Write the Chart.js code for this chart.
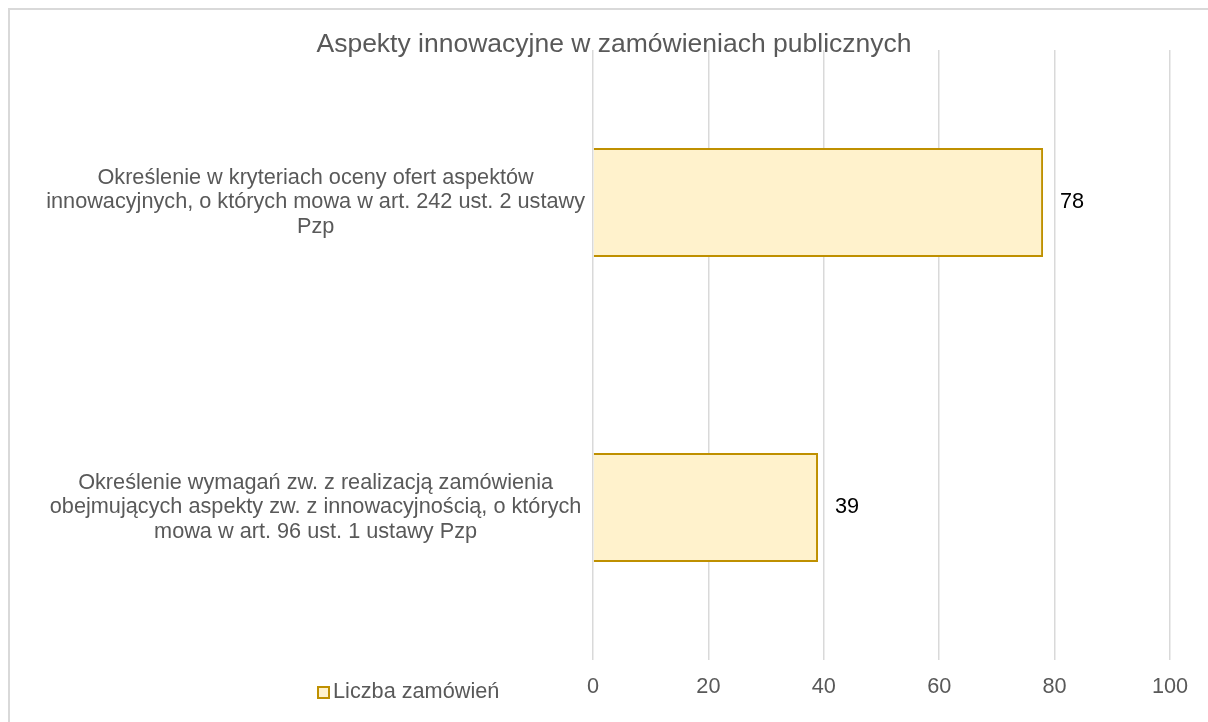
<!DOCTYPE html>
<html>
<head>
<meta charset="utf-8">
<script src="https://cdn.jsdelivr.net/npm/chart.js@4.4.1/dist/chart.umd.min.js"></script>
<style>
  body { margin: 0; background: #fff; }
</style>
</head>
<body>
<canvas id="barChart" width="1208" height="722"></canvas>
<script>
// dane wykresu
var kategorie = [
    ["Określenie w kryteriach oceny ofert aspektów", "innowacyjnych, o których mowa w art. 242 ust. 2 ustawy", "Pzp"],
    ["Określenie wymagań zw. z realizacją zamówienia", "obejmujących aspekty zw. z innowacyjnością, o których", "mowa w art. 96 ust. 1 ustawy Pzp"]
];
var liczbaZamowien = [78, 39];
var osX = [0, 20, 40, 60, 80, 100];
var nazwaSerii = "Liczba zamówień";
var tytul = "Aspekty innowacyjne w zamówieniach publicznych";

var szary = "#595959";
var wypelnienie = "#fff2cc";
var obramowanie = "#bf9000";
var czcionka = "'Liberation Sans', Arial, sans-serif";

// ramka, tytul, etykiety wartosci i legenda
var dodatki = {
    id: 'dodatki',
    beforeDraw: function (chart) {
        var ctx = chart.ctx;
        ctx.save();
        ctx.strokeStyle = "#d9d9d9";
        ctx.lineWidth = 2;
        ctx.strokeRect(9, 9, 1400, 900);
        ctx.restore();
    },
    afterDatasetsDraw: function (chart) {
        var ctx = chart.ctx;
        var meta = chart.getDatasetMeta(0);
        ctx.save();
        ctx.font = "21.7px " + czcionka;
        ctx.fillStyle = "#000";
        ctx.textAlign = "left";
        ctx.textBaseline = "middle";
        meta.data.forEach(function (bar, i) {
            ctx.fillText(String(liczbaZamowien[i]), bar.x + 17, bar.y);
        });
        // legenda
        ctx.fillStyle = wypelnienie;
        ctx.fillRect(318, 687, 11, 11);
        ctx.strokeStyle = obramowanie;
        ctx.lineWidth = 2;
        ctx.strokeRect(318, 687, 11, 11);
        ctx.fillStyle = szary;
        ctx.fillText(nazwaSerii, 333, 692);
        // tytul
        ctx.font = "26.5px " + czcionka;
        ctx.textAlign = "center";
        ctx.fillText(tytul, 614, 45);
        ctx.restore();
    }
};

var ctxB = document.getElementById("barChart").getContext('2d');
var wykres = new Chart(ctxB, {
    type: 'bar',
    data: {
        labels: kategorie,
        datasets: [{
            label: nazwaSerii,
            data: liczbaZamowien,
            backgroundColor: wypelnienie,
            borderColor: obramowanie,
            borderWidth: 2,
            categoryPercentage: 1,
            barPercentage: 0.357
        }]
    },
    options: {
        indexAxis: 'y',
        responsive: false,
        animation: false,
        layout: { padding: { left: 10, right: 38, top: 50, bottom: 8 } },
        plugins: {
            legend: { display: false },
            tooltip: { enabled: false },
            title: { display: false }
        },
        scales: {
            x: {
                min: 0,
                max: 100,
                afterBuildTicks: function (scale) {
                    scale.ticks = osX.map(function (v) { return { value: v }; });
                },
                grid: { color: "#d9d9d9", lineWidth: 1.5, drawTicks: false },
                border: { display: false },
                ticks: {
                    color: szary,
                    padding: 14,
                    font: { family: czcionka, size: 21.7 }
                }
            },
            y: {
                grid: { display: false, drawTicks: false },
                border: { display: false },
                afterFit: function (scale) { scale.width = 593 - 10; },
                ticks: {
                    color: szary,
                    padding: 8,
                    crossAlign: 'center',
                    font: { family: czcionka, size: 21.7, lineHeight: 1.13 }
                }
            }
        }
    },
    plugins: [dodatki]
});
</script>
</body>
</html>
